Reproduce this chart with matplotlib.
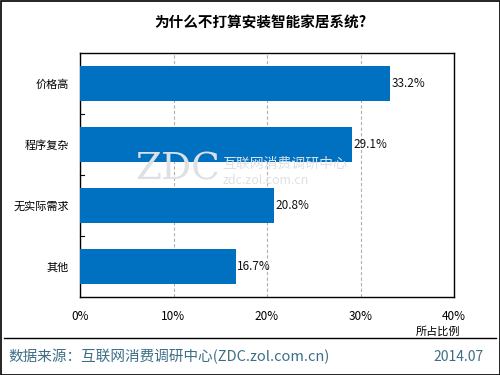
import matplotlib
matplotlib.use("Agg")
import matplotlib.pyplot as plt
from matplotlib.patches import Rectangle
from matplotlib.lines import Line2D

plt.rcParams['font.family'] = ['Noto Sans CJK SC', 'DejaVu Sans']

categories = ['价格高', '程序复杂', '无实际需求', '其他']
values = [33.2, 29.1, 20.8, 16.7]
xticks = [0, 10, 20, 30, 40]
xtick_labels = ['0%', '10%', '20%', '30%', '40%']

W, H = 500, 375
fig = plt.figure(figsize=(5, 3.75), dpi=100)
ax = fig.add_axes([80 / W, 1 - 297 / H, (454 - 80) / W, (297 - 53) / H])

ypos = list(range(len(categories)))
ax.barh(ypos, values, height=0.56, color='#0070C0', zorder=3)
ax.set_ylim(len(categories) - 0.5, -0.5)
ax.set_xlim(0, 40)

for y, v in zip(ypos, values):
    ax.text(v + 0.1, y, f'{v:.1f}%', va='center', ha='left', fontsize=8.5, color='#111111', zorder=4)

ax.set_xticks(xticks)
ax.set_xticklabels(xtick_labels, fontsize=8.5)
ax.set_yticks(ypos)
ax.set_yticklabels(categories, fontsize=8)
ax.tick_params(axis='y', length=0, pad=8)
ax.tick_params(axis='x', length=0, pad=9)
for yb in [0.5, 1.5, 2.5]:
    ax.plot([0, 0.45], [yb, yb], color='black', lw=0.8, zorder=5, clip_on=False)
ax.grid(axis='x', linestyle=(0, (3, 2)), color='#b0b0b0', lw=0.8, zorder=0)
for s in ax.spines.values():
    s.set_linewidth(1.0)
    s.set_color('black')

# watermark
wm = '#dde1e6'
fig.text(135 / W, 1 - 170 / H, 'ZDC', fontsize=27, color=wm,
         ha='left', va='center', family='DejaVu Serif', zorder=10)
fig.text(222 / W, 1 - 164 / H, '互联网消费调研中心', fontsize=10, color=wm,
         ha='left', va='center', zorder=10)
fig.text(223 / W, 1 - 181 / H, 'zdc.zol.com.cn', fontsize=9, color=wm,
         ha='left', va='center', zorder=10)

fig.text(0.52, 1 - 23 / H, '为什么不打算安装智能家居系统?', fontsize=10.5, fontweight='bold',
         ha='center', va='center')
fig.text(460 / W, 1 - 331 / H, '所占比例', fontsize=8, ha='right', va='center')

fig.add_artist(Line2D([4 / W, 496 / W], [1 - 338 / H, 1 - 338 / H], color='black', lw=1,
                      transform=fig.transFigure))
fig.text(8 / W, 1 - 357 / H, '数据来源：互联网消费调研中心(ZDC.zol.com.cn)', fontsize=10.5,
         color='#3C6E86', ha='left', va='center')
fig.text(484 / W, 1 - 357 / H, '2014.07', fontsize=10, color='#3C6E86', ha='right', va='center')

fig.add_artist(Rectangle((0.001, 0.001), 0.998, 0.997, fill=False, edgecolor='black', lw=1.2,
                         transform=fig.transFigure))

fig.savefig('out.png', dpi=100)
